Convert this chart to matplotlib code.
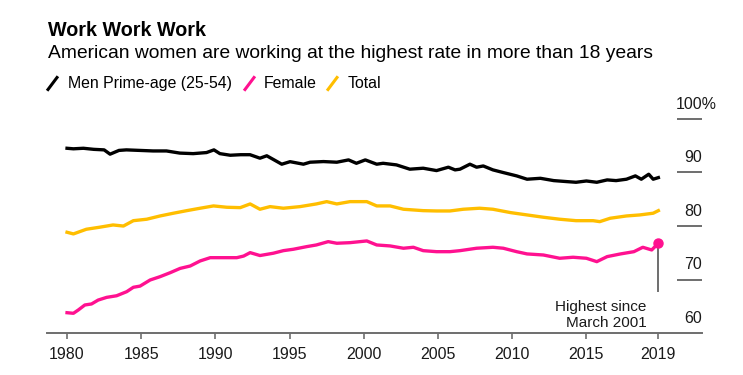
#!/usr/bin/env python3
"""Work Work Work - prime-age labor force participation, 1980-2019"""

import matplotlib
matplotlib.use('Agg')
import matplotlib.pyplot as plt
from matplotlib.lines import Line2D

plt.rcParams['font.family'] = ['Liberation Sans', 'DejaVu Sans']

# Data (fractional year, percent)
men_years = [1980.0, 1980.43, 1981.1, 1981.8, 1982.5, 1982.9, 1983.5, 1984.0, 1984.9,
             1985.8, 1986.7, 1987.6, 1988.5, 1989.4, 1989.9, 1990.3, 1991.0, 1991.7,
             1992.33, 1993.0, 1993.46, 1994.47, 1995.03, 1995.93, 1996.38, 1997.28,
             1998.18, 1998.97, 1999.5, 2000.1, 2000.87, 2001.3, 2002.2, 2003.1, 2004.0,
             2004.9, 2005.7, 2006.15, 2006.48, 2007.15, 2007.6, 2008.05, 2008.7, 2009.4,
             2010.3, 2011.0, 2011.9, 2012.8, 2013.7, 2014.3, 2015.0, 2015.7, 2016.4,
             2017.0, 2017.7, 2018.3, 2018.7, 2019.2, 2019.5, 2019.85]
men_values = [94.5, 94.4, 94.5, 94.3, 94.2, 93.4, 94.1, 94.2, 94.1,
              94.0, 94.0, 93.6, 93.5, 93.7, 94.2, 93.5, 93.2, 93.3,
              93.3, 92.65, 93.1, 91.53, 92.0, 91.53, 91.9, 92.02,
              91.9, 92.33, 91.7, 92.33, 91.53, 91.7, 91.4, 90.6, 90.78,
              90.34, 90.97, 90.47, 90.6, 91.53, 90.97, 91.2, 90.47, 89.97,
              89.35, 88.73, 88.9, 88.47, 88.28, 88.16, 88.4, 88.16, 88.6,
              88.47, 88.73, 89.35, 88.73, 89.66, 88.73, 89.03]

female_years = [1980.0, 1980.43, 1980.76, 1981.2, 1981.65, 1982.1, 1982.67, 1983.34,
                1984.02, 1984.47, 1984.92, 1985.6, 1986.27, 1986.95, 1987.62, 1988.3,
                1988.97, 1989.65, 1990.55, 1991.44, 1991.9, 1992.34, 1993.0, 1993.9,
                1994.58, 1995.25, 1996.15, 1996.8, 1997.6, 1998.18, 1999.07, 2000.2,
                2000.87, 2001.77, 2002.67, 2003.34, 2004.0, 2004.9, 2005.8, 2006.48,
                2007.6, 2008.7, 2009.4, 2010.3, 2011.0, 2012.1, 2013.2, 2014.1, 2015.0,
                2015.7, 2016.4, 2017.3, 2018.2, 2018.8, 2019.4, 2019.85]
female_values = [63.84, 63.73, 64.35, 65.28, 65.47, 66.2, 66.7, 67.0,
                 67.76, 68.58, 68.8, 69.94, 70.56, 71.3, 72.1, 72.55,
                 73.49, 74.1, 74.1, 74.1, 74.4, 75.04, 74.5, 74.93,
                 75.41, 75.67, 76.16, 76.47, 77.09, 76.79, 76.9, 77.22,
                 76.47, 76.29, 75.86, 76.04, 75.41, 75.22, 75.22, 75.41,
                 75.86, 76.04, 75.86, 75.22, 74.8, 74.6, 73.99, 74.18, 73.99,
                 73.36, 74.3, 74.8, 75.22, 76.04, 75.54, 76.79]

total_years = [1980.0, 1980.43, 1981.3, 1982.2, 1983.1, 1983.8, 1984.47, 1985.37,
               1986.27, 1987.17, 1988.07, 1988.97, 1989.87, 1990.77, 1991.67, 1992.34,
               1993.0, 1993.68, 1994.58, 1995.7, 1996.8, 1997.5, 1998.18, 1999.07,
               2000.2, 2000.87, 2001.77, 2002.67, 2004.0, 2004.9, 2005.8, 2006.7,
               2007.8, 2008.7, 2009.9, 2011.0, 2012.1, 2013.2, 2014.3, 2015.45,
               2015.9, 2016.6, 2017.7, 2018.6, 2019.5, 2019.85]
total_values = [78.84, 78.53, 79.4, 79.78, 80.2, 80.0, 81.0, 81.27,
                81.88, 82.39, 82.87, 83.32, 83.75, 83.5, 83.43, 84.12,
                83.13, 83.62, 83.32, 83.62, 84.12, 84.55, 84.12, 84.55,
                84.55, 83.75, 83.75, 83.13, 82.87, 82.81, 82.81, 83.13,
                83.32, 83.13, 82.5, 82.07, 81.64, 81.27, 81.0, 81.0,
                80.82, 81.45, 81.88, 82.07, 82.39, 82.87]

x_ticks = [1980, 1985, 1990, 1995, 2000, 2005, 2010, 2015]
x_tick_labels = ['1980', '1985', '1990', '1995', '2000', '2005', '2010', '2015', '2019']
y_ticks = [70, 80, 90, 100]

BLACK = '#000000'
PINK = '#ff1190'
YELLOW = '#ffbe00'
GRAY = '#6e6e6e'
TEXT = '#1a1a1a'

W, H = 743, 375
fig = plt.figure(figsize=(W / 100, H / 100), dpi=100)

# axes placed in pixel terms of the reference
ax = fig.add_axes([47 / W, (H - 333.3) / H, 655 / W, (333.3 - 100) / H])
ax.set_xlim(1978.65, 2022.79)
ax.set_ylim(60, 103.5)

ax.plot(men_years, men_values, color=BLACK, lw=2.4, solid_joinstyle='round')
ax.plot(total_years, total_values, color=YELLOW, lw=2.4, solid_joinstyle='round')
ax.plot(female_years, female_values, color=PINK, lw=2.4, solid_joinstyle='round')

# highlight last female value
ax.plot([female_years[-1], female_years[-1]], [female_values[-1], 67.8],
        color=GRAY, lw=1.4, zorder=1)
ax.plot(female_years[-1], female_values[-1], 'o', color=PINK, ms=6.5, zorder=5)
ax.text(2019.05, 66.3, 'Highest since\nMarch 2001', ha='right', va='top',
        fontsize=11, color=TEXT, linespacing=1.2)

# spines / ticks
for s in ['left', 'right', 'top']:
    ax.spines[s].set_visible(False)
ax.spines['bottom'].set_color(GRAY)
ax.spines['bottom'].set_linewidth(1.4)
ax.set_xticks(x_ticks + [female_years[-1]])
ax.set_xticklabels(x_tick_labels)
ax.tick_params(axis='x', length=4, width=1.2, color=GRAY, labelsize=11.5,
               labelcolor=TEXT, pad=6)
ax.set_yticks([])

# short gridline stubs on the right with labels above them
ytrans = ax.get_yaxis_transform()
ax.hlines(y_ticks, 0.962, 1.0, transform=ytrans, color=GRAY, lw=1.4, clip_on=False)
for val in [60] + y_ticks:
    t = ax.text(1.0, val + 2.75, str(val), transform=ytrans, ha='right', va='center',
                fontsize=11.5, color=TEXT, clip_on=False)
    if val == 100:
        # keep numbers right-aligned, let the % hang past the stub
        renderer = fig.canvas.get_renderer()
        x0 = t.get_window_extent(renderer).x0
        t.remove()
        ax.annotate('100%', xy=(1.0, val + 2.75), xycoords=ytrans,
                    xytext=(x0 - ax.get_window_extent(renderer).x1, 0),
                    textcoords='offset pixels', ha='left', va='center',
                    fontsize=11.5, color=TEXT, annotation_clip=False)

# title block
fig.text(48 / W, 1 - 31 / H, 'Work Work Work', fontsize=14.2, fontweight='bold',
         va='center', ha='left')
fig.text(48 / W, 1 - 54 / H, 'American women are working at the highest rate in more than 18 years',
         fontsize=13.9, va='center', ha='left')

# legend with slash markers
legend_items = [('Men Prime-age (25-54)', BLACK, 48, 68),
                ('Female', PINK, 245, 264),
                ('Total', YELLOW, 328, 347.5)]
for label, color, sx, tx in legend_items:
    fig.add_artist(Line2D([sx / W, (sx + 9) / W], [1 - 89.5 / H, 1 - 77.5 / H],
                          color=color, lw=2.2, transform=fig.transFigure))
    fig.text(tx / W, 1 - 83.5 / H, label, fontsize=11.4, va='center', ha='left')

plt.savefig('out.png', dpi=100)
